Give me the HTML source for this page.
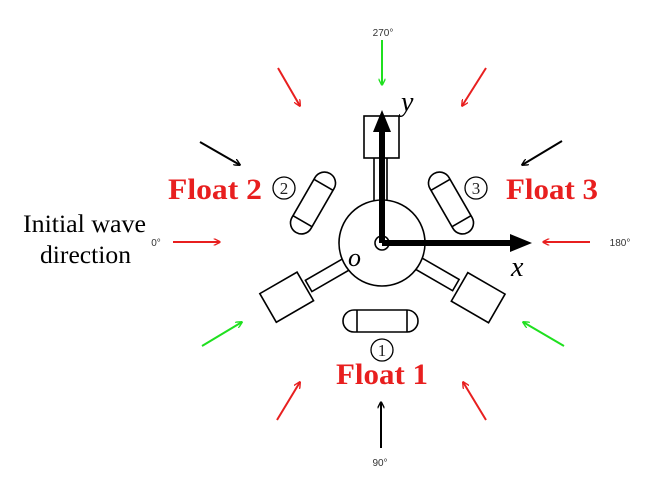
<!DOCTYPE html>
<html><head><style>html,body{margin:0;padding:0;background:#fff;}svg{display:block}</style></head>
<body>
<svg width="664" height="477" viewBox="0 0 664 477" xmlns="http://www.w3.org/2000/svg">
<defs>
<marker id="ar" viewBox="0 0 10 10" refX="9" refY="5" markerWidth="7" markerHeight="7" orient="auto" markerUnits="userSpaceOnUse"><path d="M0,0 L10,5 L0,10" fill="none" stroke="#e81f1f" stroke-width="2"/></marker>
<marker id="ak" viewBox="0 0 10 10" refX="9" refY="5" markerWidth="7" markerHeight="7" orient="auto" markerUnits="userSpaceOnUse"><path d="M0,0 L10,5 L0,10" fill="none" stroke="#000" stroke-width="2"/></marker>
<marker id="ag" viewBox="0 0 10 10" refX="9" refY="5" markerWidth="7" markerHeight="7" orient="auto" markerUnits="userSpaceOnUse"><path d="M0,0 L10,5 L0,10" fill="none" stroke="#1fe01f" stroke-width="2"/></marker>
</defs>
<g stroke-width="2" fill="none">
<line x1="382" y1="40" x2="382" y2="85" stroke="#1fe01f" marker-end="url(#ag)"/>
<line x1="278" y1="68" x2="300" y2="106" stroke="#e81f1f" marker-end="url(#ar)"/>
<line x1="486" y1="68" x2="462" y2="106" stroke="#e81f1f" marker-end="url(#ar)"/>
<line x1="200" y1="142" x2="240" y2="165" stroke="#000" marker-end="url(#ak)"/>
<line x1="562" y1="141" x2="522" y2="165" stroke="#000" marker-end="url(#ak)"/>
<line x1="173" y1="242" x2="220" y2="242" stroke="#e81f1f" marker-end="url(#ar)"/>
<line x1="590" y1="242" x2="543" y2="242" stroke="#e81f1f" marker-end="url(#ar)"/>
<line x1="202" y1="346" x2="242" y2="322" stroke="#1fe01f" marker-end="url(#ag)"/>
<line x1="564" y1="346" x2="523" y2="322" stroke="#1fe01f" marker-end="url(#ag)"/>
<line x1="277" y1="420" x2="300" y2="382" stroke="#e81f1f" marker-end="url(#ar)"/>
<line x1="486" y1="420" x2="463" y2="382" stroke="#e81f1f" marker-end="url(#ar)"/>
<line x1="381" y1="448" x2="381" y2="402" stroke="#000" marker-end="url(#ak)"/>
</g>
<g stroke="#000" stroke-width="1.6" fill="#fff">
<rect x="374" y="156" width="13" height="48"/>
<g transform="rotate(120 382 243)"><rect x="375" y="158" width="13" height="48"/></g>
<g transform="rotate(-120 382 243)"><rect x="375" y="158" width="13" height="48"/></g>
<circle cx="382" cy="243" r="43"/>
<circle cx="382" cy="243" r="7"/>
<rect x="364" y="116" width="35" height="42"/>
<g transform="rotate(-30 286 297)"><rect x="265" y="281" width="43" height="33"/></g>
<g transform="rotate(30 478 297)"><rect x="457" y="281" width="43" height="33"/></g>
<rect x="343" y="310" width="75" height="22" rx="11"/>
<line x1="357" y1="310" x2="357" y2="332"/><line x1="407" y1="310" x2="407" y2="332"/>
<g transform="rotate(-60 313 203)"><rect x="279" y="192" width="68" height="22" rx="11"/><line x1="292" y1="192" x2="292" y2="214"/><line x1="334" y1="192" x2="334" y2="214"/></g>
<g transform="rotate(60 451 203)"><rect x="417" y="192" width="68" height="22" rx="11"/><line x1="430" y1="192" x2="430" y2="214"/><line x1="472" y1="192" x2="472" y2="214"/></g>
<circle cx="284" cy="188" r="11" stroke-width="1.3"/>
<circle cx="476" cy="188" r="11" stroke-width="1.3"/>
<circle cx="382" cy="350" r="11" stroke-width="1.3"/>
</g>
<g stroke="#000" stroke-width="6">
<line x1="382" y1="243" x2="382" y2="128"/>
<line x1="382" y1="243" x2="512" y2="243"/>
</g>
<polygon points="382,110 373,132 391,132" fill="#000"/>
<polygon points="532,243 510,234 510,252" fill="#000"/>
<g font-family="Liberation Serif, serif">
<text x="401" y="111" font-size="28" font-style="italic">y</text>
<text x="511" y="276" font-size="28" font-style="italic">x</text>
<text x="348" y="266" font-size="26" font-style="italic">o</text>
<g font-size="30" font-weight="bold" fill="#e81f1f">
<text x="168" y="199" textLength="94" lengthAdjust="spacingAndGlyphs">Float 2</text>
<text x="506" y="199" textLength="92" lengthAdjust="spacingAndGlyphs">Float 3</text>
<text x="336" y="384" textLength="92" lengthAdjust="spacingAndGlyphs">Float 1</text>
</g>
<g font-size="25" fill="#000">
<text x="23" y="232" textLength="123" lengthAdjust="spacingAndGlyphs">Initial wave</text>
<text x="40" y="263" textLength="91" lengthAdjust="spacingAndGlyphs">direction</text>
</g>
<g font-size="17" text-anchor="middle" fill="#222">
<text x="284" y="194">2</text><text x="476" y="194">3</text><text x="382" y="356">1</text>
</g>
</g>
<g font-family="Liberation Sans, sans-serif" font-size="10" fill="#333" text-anchor="middle">
<text x="383" y="36">270°</text>
<text x="380" y="466">90°</text>
<text x="156" y="246">0°</text>
<text x="620" y="246">180°</text>
</g>
</svg>
</body></html>
